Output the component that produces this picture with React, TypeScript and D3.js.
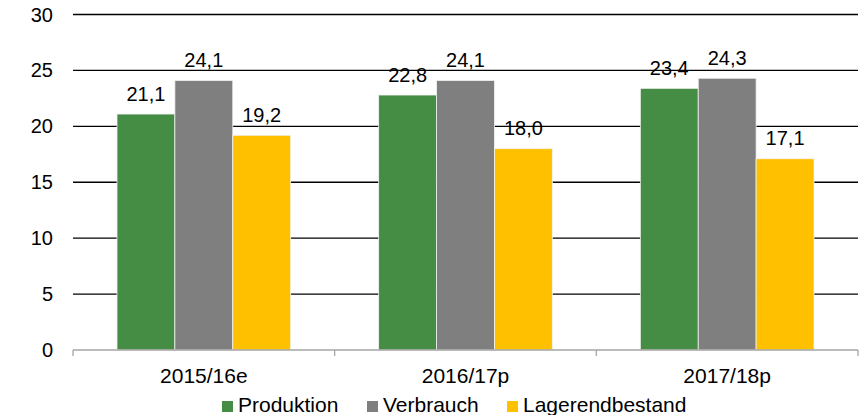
import { FC } from 'react';
import * as d3 from 'd3';

const categories = ['2015/16e', '2016/17p', '2017/18p'];
const seriesNames = ['Produktion', 'Verbrauch', 'Lagerendbestand'];
const produktion = [21.1, 22.8, 23.4];
const verbrauch = [24.1, 24.1, 24.3];
const lagerendbestand = [19.2, 18.0, 17.1];
const yTicks = [0, 5, 10, 15, 20, 25, 30];

const colors = ['#458c45', '#7f7f7f', '#ffc000'];

const App: FC = () => {
  const width = 861;
  const height = 415;
  const margin = { top: 14.5, right: 3, bottom: 65, left: 73 };
  const innerW = width - margin.left - margin.right;
  const innerH = height - margin.top - margin.bottom;

  const series = [produktion, verbrauch, lagerendbestand];

  const x = d3.scaleBand<string>().domain(categories).range([0, innerW]).paddingInner(0).paddingOuter(0);
  const xInner = d3
    .scaleBand<string>()
    .domain(seriesNames)
    .range([0, x.bandwidth()])
    .paddingInner(0)
    .paddingOuter(0.76);
  const y = d3.scaleLinear().domain([0, 30]).range([innerH, 0]);

  const fmt = (v: number) => v.toFixed(1).replace('.', ',');
  const font = 'Liberation Sans, Arial, sans-serif';

  // legend layout
  const legendItems = [
    { name: 'Produktion', x: 222 },
    { name: 'Verbrauch', x: 367 },
    { name: 'Lagerendbestand', x: 507 },
  ];

  return (
    <svg
      width={width}
      height={height}
      style={{ position: 'absolute', left: 0, top: 0, background: '#fff' }}
      fontFamily={font}
    >
      <g transform={`translate(${margin.left},${margin.top})`}>
        {/* gridlines */}
        {yTicks
          .filter(t => t > 0)
          .map(t => (
            <line key={t} x1={0} x2={innerW} y1={y(t)} y2={y(t)} stroke="#000" strokeWidth={1.3} />
          ))}
        {/* y labels */}
        {yTicks.map(t => (
          <text key={t} x={-20} y={y(t)} dy="0.35em" textAnchor="end" fontSize={20} fill="#000">
            {t}
          </text>
        ))}

        {/* bars */}
        {categories.map((c, ci) => (
          <g key={c} transform={`translate(${x(c)},0)`}>
            {series.map((s, si) => (
              <g key={si}>
                <rect
                  x={xInner(seriesNames[si])}
                  y={y(s[ci])}
                  width={xInner.bandwidth()}
                  height={innerH - y(s[ci])}
                  fill={colors[si]}
                  stroke="#f2f2f2"
                  strokeWidth={0.8}
                />
                <text
                  x={(xInner(seriesNames[si]) ?? 0) + xInner.bandwidth() / 2}
                  y={y(s[ci]) - 13.5}
                  textAnchor="middle"
                  fontSize={20}
                  fill="#000"
                >
                  {fmt(s[ci])}
                </text>
              </g>
            ))}
          </g>
        ))}

        {/* x axis */}
        <line x1={0} x2={innerW} y1={innerH} y2={innerH} stroke="#a6a6a6" strokeWidth={1.3} />
        {[0, ...categories.map(c => (x(c) ?? 0) + x.bandwidth())].map((tx, i) => (
          <line key={i} x1={tx} x2={tx} y1={innerH} y2={innerH + 6} stroke="#a6a6a6" strokeWidth={1.3} />
        ))}
        {categories.map(c => (
          <text
            key={c}
            x={(x(c) ?? 0) + x.bandwidth() / 2}
            y={innerH + 33}
            textAnchor="middle"
            fontSize={21}
            fill="#000"
          >
            {c}
          </text>
        ))}
      </g>

      {/* legend */}
      {legendItems.map((l, i) => (
        <g key={l.name}>
          <rect x={l.x} y={401} width={11} height={11} fill={colors[i]} />
          <text x={l.x + 16} y={412} fontSize={21} fill="#000">
            {l.name}
          </text>
        </g>
      ))}
    </svg>
  );
};

export default App;
